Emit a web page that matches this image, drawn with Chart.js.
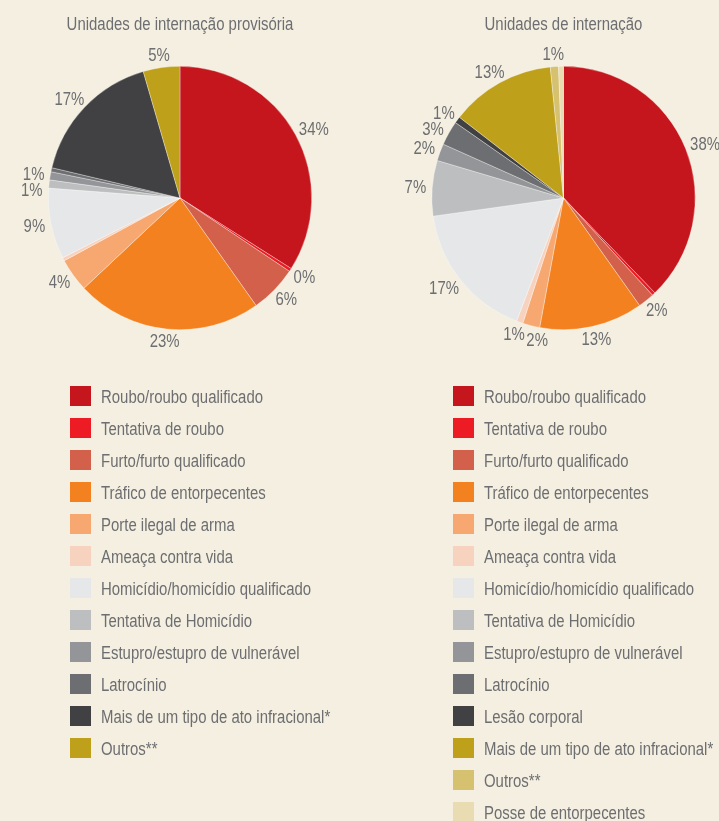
<!DOCTYPE html>
<html><head><meta charset="utf-8">
<script src="https://cdn.jsdelivr.net/npm/chart.js@4.4.1/dist/chart.umd.min.js"></script>
<style>
html,body{margin:0;padding:0;background:#f4efe0;width:719px;height:821px;overflow:hidden}
#c1{position:absolute;left:0;top:0}
#c2{position:absolute;left:360px;top:0}
</style></head><body>
<canvas id="c1" width="360" height="821"></canvas>
<canvas id="c2" width="359" height="821"></canvas>
<script>
// ---------- data ----------
const leftTitle = "Unidades de internação provisória";
const leftCategories = ["Roubo/roubo qualificado","Tentativa de roubo","Furto/furto qualificado","Tráfico de entorpecentes","Porte ilegal de arma","Ameaça contra vida","Homicídio/homicídio qualificado","Tentativa de Homicídio","Estupro/estupro de vulnerável","Latrocínio","Mais de um tipo de ato infracional*","Outros**"];
const leftValues = [34.0, 0.4, 5.8, 22.8, 4.1, 0.4, 8.7, 1.0, 1.0, 0.5, 16.8, 4.5];
const leftPctLabels = ["34%","0%","6%","23%","4%","","9%","1%","1%","","17%","5%"];

const rightTitle = "Unidades de internação";
const rightCategories = ["Roubo/roubo qualificado","Tentativa de roubo","Furto/furto qualificado","Tráfico de entorpecentes","Porte ilegal de arma","Ameaça contra vida","Homicídio/homicídio qualificado","Tentativa de Homicídio","Estupro/estupro de vulnerável","Latrocínio","Lesão corporal","Mais de um tipo de ato infracional*","Outros**","Posse de entorpecentes"];
const rightValues = [37.8, 0.4, 2.0, 12.7, 2.1, 0.8, 17.0, 6.8, 2.1, 3.0, 0.8, 12.9, 1.0, 0.6];
const rightPctLabels = ["38%","","2%","13%","2%","1%","17%","7%","2%","3%","1%","13%","1%",""];

// ---------- styles ----------
const leftColors = ["#c4161c","#ed1c24","#d2604a","#f38120","#f6a870","#f7d2bf","#e6e7e8","#bcbec0","#939598","#6d6e71","#414042","#bfa01a"];
const rightColors = ["#c4161c","#ed1c24","#d2604a","#f38120","#f6a870","#f7d2bf","#e6e7e8","#bcbec0","#939598","#6d6e71","#414042","#bfa01a","#d5c170","#e9dcb2"];
const FONT = "17.5px 'Liberation Sans', Arial, sans-serif";
const TEXT = "#6d6e71";
let SX = 1; // horizontal condensing factor to mimic a condensed face

function txt(ctx, s, x, y, align, base) {
  ctx.save();
  ctx.translate(x, y);
  ctx.scale(SX, 1);
  ctx.textAlign = align;
  ctx.textBaseline = base;
  ctx.fillText(s, 0, 0);
  ctx.restore();
}

const decor = {
  id: 'decor',
  afterDraw(chart, args, o) {
    const ctx = chart.ctx;
    ctx.save();
    ctx.font = FONT;
    SX = 162 / ctx.measureText("Roubo/roubo qualificado").width;
    ctx.fillStyle = TEXT;
    // title
    txt(ctx, o.title, (chart.chartArea.left + chart.chartArea.right) / 2, 30, 'center', 'alphabetic');
    // percentage labels, placed outside each slice; overlapping ones are rotated back
    const meta = chart.getDatasetMeta(0);
    const h = 13;
    const placed = [];
    const posAt = (arc, a, w) => {
      const r = arc.outerRadius + 6;
      return { x: arc.x + Math.cos(a) * (r + w / 2), y: arc.y + Math.sin(a) * (r + h / 2) };
    };
    for (let i = meta.data.length - 1; i >= 0; i--) {
      const t = o.pct[i];
      if (!t) continue;
      const arc = meta.data[i];
      const w = ctx.measureText(t).width * SX;
      let a = (arc.startAngle + arc.endAngle) / 2;
      let p = posAt(arc, a, w);
      const hit = (q) => placed.some(b => Math.abs(b.x - q.x) < (b.w + w) / 2 + 1 && Math.abs(b.y - q.y) < h + 3);
      let n = 0;
      while (hit(p) && n < 60) { a -= Math.PI / 360; p = posAt(arc, a, w); n++; }
      placed.push({ x: p.x, y: p.y, w: w });
      txt(ctx, t, p.x, p.y + 6, 'center', 'alphabetic');
    }
    // legend
    const cols = chart.data.datasets[0].backgroundColor;
    chart.data.labels.forEach((lab, i) => {
      const cy = 396 + 32 * i;
      ctx.fillStyle = cols[i];
      ctx.fillRect(o.lx, cy - 10, 21, 20);
      ctx.fillStyle = TEXT;
      txt(ctx, lab, o.lx + 31, cy + 7, 'left', 'alphabetic');
    });
    ctx.restore();
  }
};

function makePie(id, cats, vals, colors, pct, title, pad, lx) {
  return new Chart(document.getElementById(id), {
    type: 'pie',
    data: { labels: cats, datasets: [{ data: vals, backgroundColor: colors, borderColor: 'rgba(255,255,255,0.55)', borderWidth: 0.6 }] },
    options: {
      responsive: false, animation: false, events: [],
      layout: { padding: pad },
      plugins: { legend: { display: false }, tooltip: { enabled: false }, title: { display: false },
        decor: { title: title, pct: pct, lx: lx } }
    },
    plugins: [decor]
  });
}
makePie('c1', leftCategories, leftValues, leftColors, leftPctLabels, leftTitle, {left: 48, right: 48, top: 65.5, bottom: 490.5}, 70);
makePie('c2', rightCategories, rightValues, rightColors, rightPctLabels, rightTitle, {left: 71.5, right: 23.5, top: 65.5, bottom: 490.5}, 93);
</script>
</body></html>
